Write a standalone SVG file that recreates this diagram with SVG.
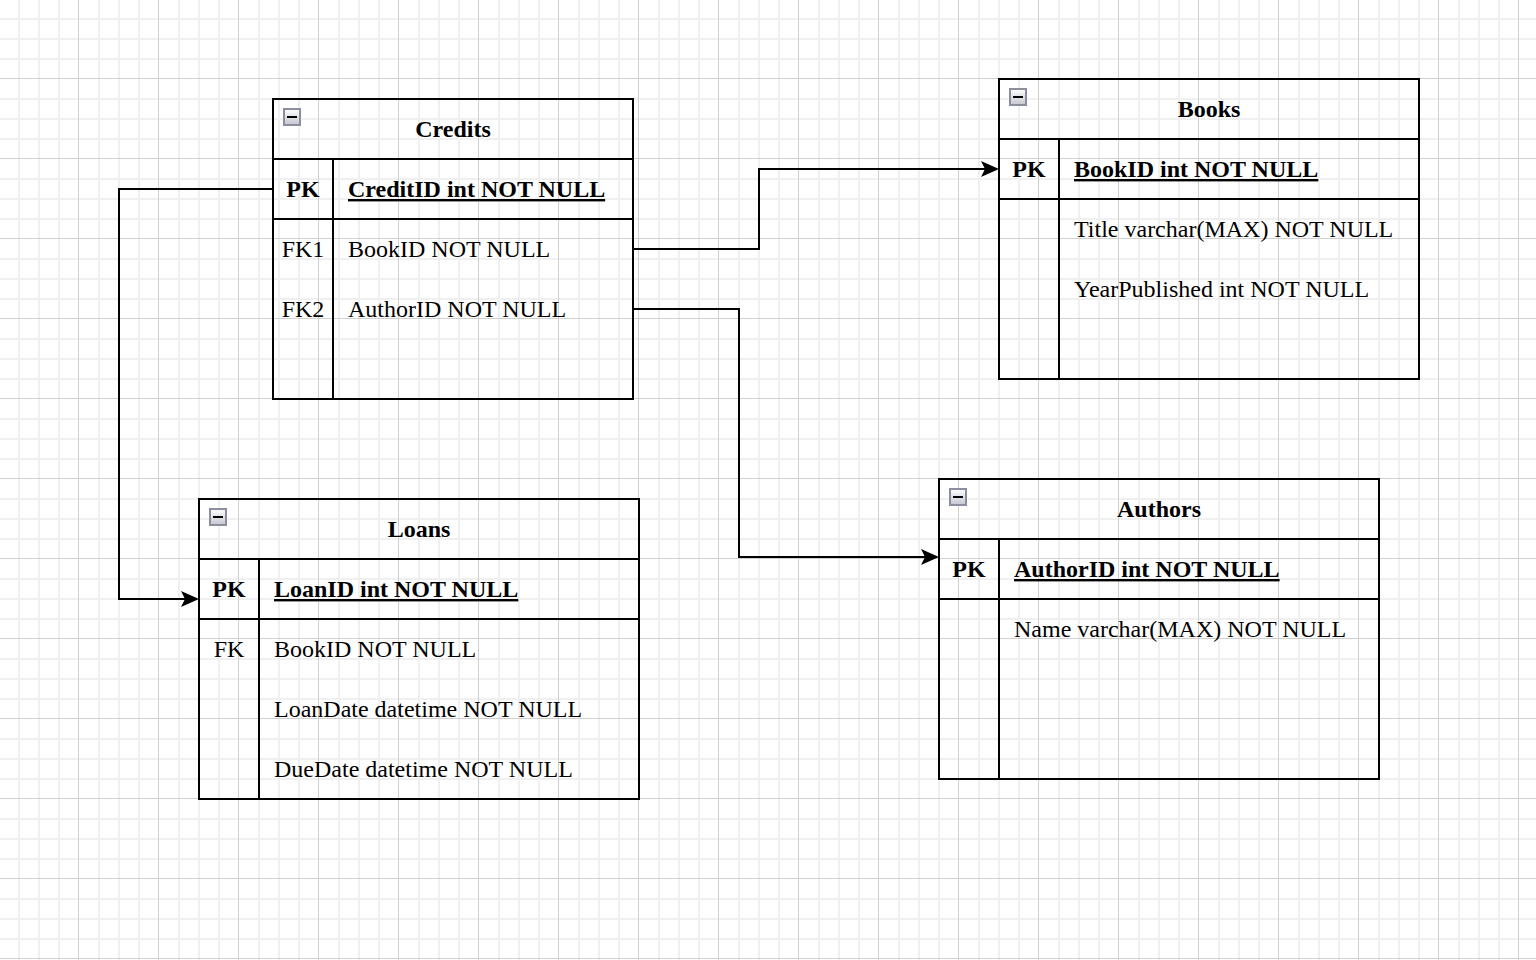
<svg xmlns="http://www.w3.org/2000/svg" width="1536" height="960" viewBox="0 0 1536 960">
<style>
.minor{stroke:#f0f0f0;stroke-width:2;fill:none}
.major{stroke:#d0d0d0;stroke-width:1;fill:none}
.tbl{fill:none;stroke:#000;stroke-width:2}
.t{font-family:"Liberation Serif","Times New Roman",serif;font-size:24px;fill:#000}
.b{font-weight:bold}
.c{text-anchor:middle}
.u{text-decoration:underline}
.icon{fill:url(#ig);stroke:#8a8e9e;stroke-width:2}
.bar{fill:#000}
.edge{fill:none;stroke:#000;stroke-width:2}
</style>
<defs>
<linearGradient id="ig" x1="0" y1="0" x2="0" y2="1">
<stop offset="0" stop-color="#ffffff"/>
<stop offset="1" stop-color="#c4c6d0"/>
</linearGradient>
<marker id="arr" markerUnits="userSpaceOnUse" markerWidth="20" markerHeight="20" refX="14" refY="8" orient="auto">
<path d="M0 0L18 8L0 16L4 8Z" fill="#000"/>
</marker>
</defs>
<rect width="1536" height="960" fill="#fff"/>
<g id="grid">
<path class="minor" d="M19 0V960M39 0V960M59 0V960M99 0V960M119 0V960M139 0V960M179 0V960M199 0V960M219 0V960M259 0V960M279 0V960M299 0V960M339 0V960M359 0V960M379 0V960M419 0V960M439 0V960M459 0V960M499 0V960M519 0V960M539 0V960M579 0V960M599 0V960M619 0V960M659 0V960M679 0V960M699 0V960M739 0V960M759 0V960M779 0V960M819 0V960M839 0V960M859 0V960M899 0V960M919 0V960M939 0V960M979 0V960M999 0V960M1019 0V960M1059 0V960M1079 0V960M1099 0V960M1139 0V960M1159 0V960M1179 0V960M1219 0V960M1239 0V960M1259 0V960M1299 0V960M1319 0V960M1339 0V960M1379 0V960M1399 0V960M1419 0V960M1459 0V960M1479 0V960M1499 0V960
M0 19H1536M0 39H1536M0 59H1536M0 99H1536M0 119H1536M0 139H1536M0 179H1536M0 199H1536M0 219H1536M0 259H1536M0 279H1536M0 299H1536M0 339H1536M0 359H1536M0 379H1536M0 419H1536M0 439H1536M0 459H1536M0 499H1536M0 519H1536M0 539H1536M0 579H1536M0 599H1536M0 619H1536M0 659H1536M0 679H1536M0 699H1536M0 739H1536M0 759H1536M0 779H1536M0 819H1536M0 839H1536M0 859H1536M0 899H1536M0 919H1536M0 939H1536"/>
<path class="major" d="M78.5 0V960M158.5 0V960M238.5 0V960M318.5 0V960M398.5 0V960M478.5 0V960M558.5 0V960M638.5 0V960M718.5 0V960M798.5 0V960M878.5 0V960M958.5 0V960M1038.5 0V960M1118.5 0V960M1198.5 0V960M1278.5 0V960M1358.5 0V960M1438.5 0V960M1518.5 0V960
M0 78.5H1536M0 158.5H1536M0 238.5H1536M0 318.5H1536M0 398.5H1536M0 478.5H1536M0 558.5H1536M0 638.5H1536M0 718.5H1536M0 798.5H1536M0 878.5H1536M0 958.5H1536"/>
</g>
<g id="connectors">
<path class="edge" d="M273 189H119V599H195" marker-end="url(#arr)"/>
<path class="edge" d="M633 249H759V169H995" marker-end="url(#arr)"/>
<path class="edge" d="M633 309H739V557H935" marker-end="url(#arr)"/>
</g>
<g id="credits" transform="translate(273,99)">
<rect class="tbl" x="0" y="0" width="360" height="300"/>
<path class="tbl" d="M0 60H360M0 120H360M60 60V300"/>
<rect class="icon" x="11" y="10" width="16" height="16"/>
<rect class="bar" x="14" y="17" width="10" height="2"/>
<text class="t b c" x="180" y="38">Credits</text>
<text class="t b c" x="30" y="98">PK</text>
<text class="t b u" x="75" y="98">CreditID int NOT NULL</text>
<text class="t c" x="30" y="158">FK1</text>
<text class="t" x="75" y="158">BookID NOT NULL</text>
<text class="t c" x="30" y="218">FK2</text>
<text class="t" x="75" y="218">AuthorID NOT NULL</text>
</g>
<g id="books" transform="translate(999,79)">
<rect class="tbl" x="0" y="0" width="420" height="300"/>
<path class="tbl" d="M0 60H420M0 120H420M60 60V300"/>
<rect class="icon" x="11" y="10" width="16" height="16"/>
<rect class="bar" x="14" y="17" width="10" height="2"/>
<text class="t b c" x="210" y="38">Books</text>
<text class="t b c" x="30" y="98">PK</text>
<text class="t b u" x="75" y="98">BookID int NOT NULL</text>
<text class="t" x="75" y="158">Title varchar(MAX) NOT NULL</text>
<text class="t" x="75" y="218">YearPublished int NOT NULL</text>
</g>
<g id="authors" transform="translate(939,479)">
<rect class="tbl" x="0" y="0" width="440" height="300"/>
<path class="tbl" d="M0 60H440M0 120H440M60 60V300"/>
<rect class="icon" x="11" y="10" width="16" height="16"/>
<rect class="bar" x="14" y="17" width="10" height="2"/>
<text class="t b c" x="220" y="38">Authors</text>
<text class="t b c" x="30" y="98">PK</text>
<text class="t b u" x="75" y="98">AuthorID int NOT NULL</text>
<text class="t" x="75" y="158">Name varchar(MAX) NOT NULL</text>
</g>
<g id="loans" transform="translate(199,499)">
<rect class="tbl" x="0" y="0" width="440" height="300"/>
<path class="tbl" d="M0 60H440M0 120H440M60 60V300"/>
<rect class="icon" x="11" y="10" width="16" height="16"/>
<rect class="bar" x="14" y="17" width="10" height="2"/>
<text class="t b c" x="220" y="38">Loans</text>
<text class="t b c" x="30" y="98">PK</text>
<text class="t b u" x="75" y="98">LoanID int NOT NULL</text>
<text class="t c" x="30" y="158">FK</text>
<text class="t" x="75" y="158">BookID NOT NULL</text>
<text class="t" x="75" y="218">LoanDate datetime NOT NULL</text>
<text class="t" x="75" y="278">DueDate datetime NOT NULL</text>
</g>
</svg>
